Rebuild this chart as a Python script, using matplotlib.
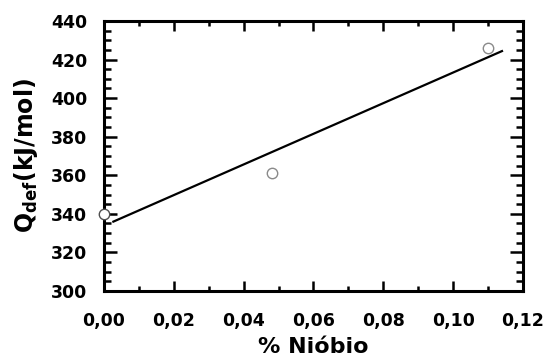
import numpy as np
import matplotlib
matplotlib.use('Agg')
import matplotlib.pyplot as plt
from matplotlib.ticker import MultipleLocator, FuncFormatter

# data
niobio = [0.0, 0.048, 0.110]
q_def = [340, 361, 426]
edge_colors = ['#505050', '#8a8a8a', '#8a8a8a']
fit_range = [0.0027, 0.114]

plt.rcParams['font.family'] = ['DejaVu Sans']
plt.rcParams['font.weight'] = 'bold'
plt.rcParams['mathtext.fontset'] = 'dejavusans'

fig = plt.figure(figsize=(5.47, 3.6), dpi=100)
ax = fig.add_axes([0.190, 0.1917, 0.766, 0.750])

# linear fit through the points
coef = np.polyfit(niobio, q_def, 1)
xf = np.array(fit_range)
ax.plot(xf, np.polyval(coef, xf), color='black', lw=1.6, zorder=2)

for x, y, ec in zip(niobio, q_def, edge_colors):
    ax.plot(x, y, 'o', ms=7.5, mfc='white', mec=ec, mew=1.0, clip_on=False, zorder=5)

ax.set_xlim(0, 0.12)
ax.set_ylim(300, 440)
ax.xaxis.set_major_locator(MultipleLocator(0.02))
ax.xaxis.set_minor_locator(MultipleLocator(0.01))
ax.yaxis.set_major_locator(MultipleLocator(20))
ax.yaxis.set_minor_locator(MultipleLocator(5))
ax.xaxis.set_major_formatter(FuncFormatter(lambda v, p: f'{v:.2f}'.replace('.', ',')))

for s in ax.spines.values():
    s.set_linewidth(2.2)

ax.tick_params(axis='both', which='both', direction='in', top=True, right=True, width=1.8)
ax.tick_params(axis='x', which='major', length=7.2, pad=15, labelsize=12.5)
ax.tick_params(axis='x', which='minor', length=3.6)
ax.tick_params(axis='y', which='major', length=9.5, pad=12, labelsize=12.5)
ax.tick_params(axis='y', which='minor', length=5)
for lab in ax.get_xticklabels() + ax.get_yticklabels():
    lab.set_fontweight('bold')

ax.set_xlabel('% Nióbio', fontsize=16, fontweight='bold', labelpad=5)
ax.set_ylabel(r'$\mathbf{Q_{def}(kJ/mol)}$', fontsize=17, labelpad=8)

fig.savefig('out.png', dpi=100)
